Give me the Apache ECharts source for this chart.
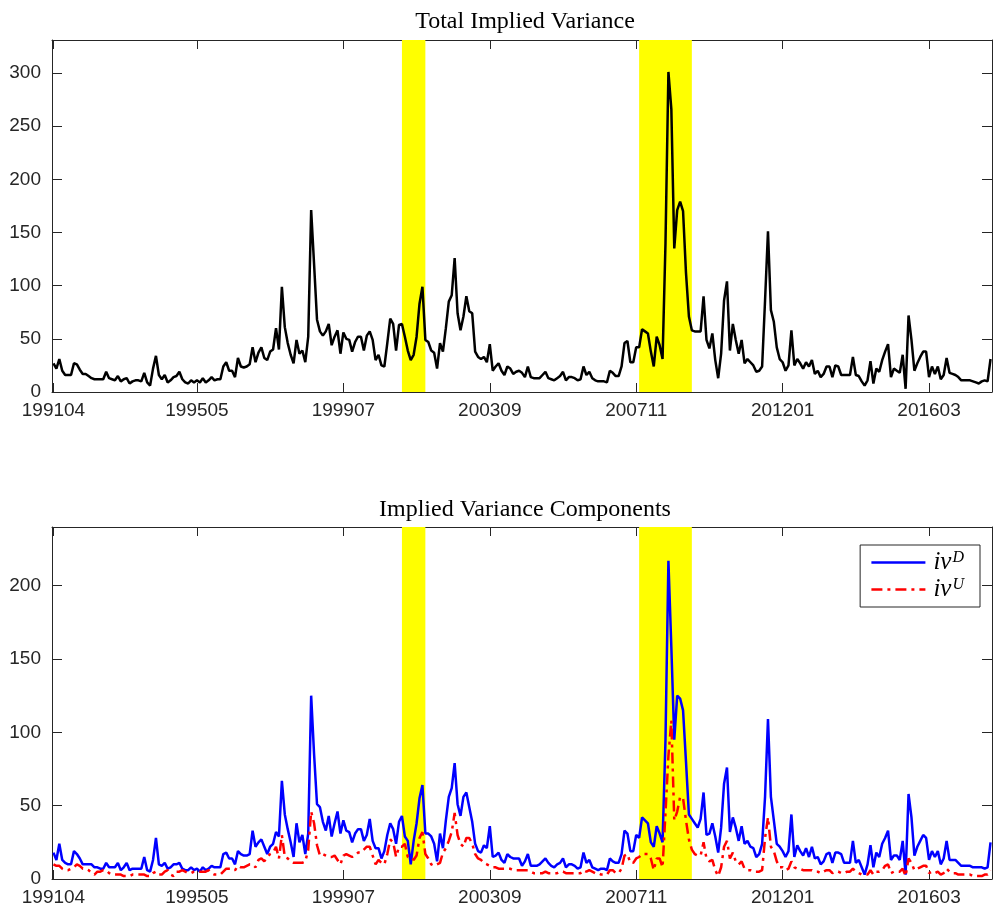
<!DOCTYPE html>
<html>
<head>
<meta charset="utf-8">
<script src="https://cdn.jsdelivr.net/npm/echarts@6/dist/echarts.min.js"></script>
<style>
  html, body { margin: 0; padding: 0; background: #fff; }
  #chart { width: 993px; height: 915px; }
</style>
</head>
<body>
<div id="chart"></div>
<script>
// monthly dates 199104 .. 201712
var months = [];
for (var k = 0; k < 321; k++) {
    var yr = 1991 + Math.floor((3 + k) / 12);
    var mo = (3 + k) % 12 + 1;
    months.push(yr + (mo < 10 ? '0' : '') + mo);
}

var totalIV = [
    27, 22, 31, 20, 16, 16, 16, 27, 26, 21,
    17, 17, 15, 13, 12, 12, 12, 12, 19, 13,
    12, 11, 15, 10, 12, 13, 8, 10, 11, 11,
    10, 18, 9, 6, 22, 34, 16, 12, 16, 9,
    11, 14, 15, 19, 12, 9, 8, 11, 9, 11,
    9, 13, 9, 11, 14, 11, 12, 12, 24, 28,
    20, 20, 14, 32, 24, 23, 24, 26, 42, 28,
    37, 42, 32, 30, 38, 40, 60, 40, 99, 61,
    46, 35, 27, 49, 36, 39, 28, 52, 171, 120,
    68, 57, 53, 57, 64, 44, 52, 58, 36, 56,
    50, 49, 38, 47, 52, 52, 39, 53, 57, 49,
    30, 35, 25, 24, 46, 69, 64, 39, 63, 64,
    52, 39, 30, 35, 52, 83, 99, 49, 47, 39,
    37, 22, 46, 38, 60, 85, 91, 126, 74, 58,
    71, 90, 76, 74, 38, 33, 31, 33, 28, 45,
    20, 24, 27, 20, 16, 24, 22, 17, 19, 20,
    18, 14, 24, 14, 13, 13, 13, 16, 19, 13,
    12, 11, 13, 15, 19, 11, 14, 14, 13, 11,
    12, 24, 16, 19, 13, 11, 10, 10, 10, 9,
    20, 18, 15, 15, 24, 46, 48, 28, 28, 42,
    42, 59, 57, 55, 38, 24, 52, 44, 31, 140,
    301, 266, 135, 171, 179, 170, 112, 71, 58, 57,
    57, 57, 90, 49, 41, 55, 30, 13, 36, 86,
    104, 39, 64, 49, 36, 49, 27, 31, 28, 25,
    19, 20, 24, 86, 151, 77, 66, 42, 31, 28,
    20, 25, 58, 25, 31, 27, 22, 28, 24, 30,
    17, 20, 14, 17, 24, 24, 14, 25, 24, 16,
    16, 16, 16, 33, 16, 15, 10, 6, 11, 29,
    8, 22, 19, 30, 38, 45, 14, 22, 20, 18,
    35, 3, 72, 49, 20, 27, 33, 38, 38, 14,
    24, 17, 24, 12, 16, 32, 18, 17, 16, 14,
    11, 11, 11, 11, 10, 9, 8, 10, 11, 10, 31
];

var ivD = [
    18, 13, 24, 13, 11, 10, 10, 19, 17, 14,
    10, 10, 10, 10, 8, 8, 7, 7, 11, 8,
    8, 8, 11, 6, 8, 11, 6, 7, 7, 7,
    7, 15, 6, 5, 13, 28, 10, 9, 11, 7,
    8, 10, 10, 11, 7, 6, 6, 8, 6, 7,
    5, 8, 6, 7, 9, 8, 8, 8, 17, 18,
    14, 14, 10, 19, 17, 16, 16, 17, 33, 22,
    25, 27, 22, 17, 22, 24, 32, 29, 67, 44,
    34, 25, 15, 38, 25, 30, 17, 31, 125, 85,
    51, 49, 39, 33, 43, 29, 38, 46, 31, 40,
    33, 32, 25, 31, 34, 34, 26, 30, 41, 26,
    21, 21, 14, 19, 30, 38, 34, 24, 39, 43,
    29, 26, 10, 26, 38, 55, 64, 31, 31, 29,
    24, 12, 31, 21, 40, 56, 62, 79, 51, 43,
    56, 59, 49, 39, 24, 19, 18, 23, 21, 36,
    15, 16, 18, 13, 11, 17, 15, 14, 14, 14,
    9, 12, 17, 9, 9, 9, 10, 12, 14, 11,
    9, 8, 10, 11, 14, 8, 10, 10, 9, 7,
    8, 18, 11, 13, 8, 7, 6, 7, 7, 6,
    14, 12, 11, 11, 17, 33, 31, 19, 19, 30,
    28, 42, 40, 38, 25, 22, 36, 31, 25, 95,
    217, 158, 95, 125, 123, 115, 80, 44, 41, 38,
    35, 41, 59, 30, 31, 38, 29, 18, 35, 65,
    76, 32, 42, 35, 26, 36, 24, 26, 22, 21,
    15, 17, 24, 56, 109, 56, 40, 24, 22, 19,
    15, 19, 44, 15, 23, 19, 16, 21, 15, 22,
    14, 15, 10, 12, 17, 18, 11, 18, 18, 17,
    11, 11, 11, 26, 11, 13, 8, 3, 10, 23,
    8, 18, 15, 24, 28, 33, 13, 16, 16, 13,
    26, 3, 58, 42, 16, 22, 26, 30, 28, 13,
    19, 15, 19, 10, 14, 26, 13, 13, 13, 11,
    9, 9, 9, 9, 8, 8, 8, 8, 7, 8, 25
];

var ivU = [
    10, 9, 9, 7, 6, 6, 7, 8, 10, 9,
    7, 7, 6, 4, 3, 5, 5, 6, 6, 4,
    3, 3, 3, 3, 2, 2, 2, 3, 3, 3,
    3, 3, 2, 2, 4, 5, 3, 3, 5, 6,
    3, 2, 5, 5, 6, 5, 4, 4, 5, 5,
    5, 5, 5, 6, 4, 3, 3, 3, 5, 7,
    7, 7, 6, 9, 8, 8, 9, 10, 10, 8,
    13, 14, 12, 15, 17, 18, 22, 14, 30, 15,
    14, 12, 11, 11, 11, 11, 12, 20, 46, 38,
    23, 16, 17, 16, 15, 15, 16, 13, 10, 16,
    17, 16, 15, 16, 18, 18, 20, 22, 22, 16,
    10, 13, 11, 10, 17, 27, 25, 15, 22, 22,
    24, 15, 15, 13, 16, 28, 32, 17, 14, 10,
    9, 10, 11, 18, 21, 26, 32, 45, 30, 24,
    22, 28, 28, 24, 17, 14, 13, 11, 10, 9,
    8, 8, 7, 7, 7, 7, 7, 6, 6, 6,
    6, 6, 6, 5, 4, 4, 4, 4, 5, 4,
    4, 4, 4, 5, 5, 4, 4, 4, 4, 4,
    4, 6, 5, 6, 5, 4, 4, 3, 3, 3,
    6, 6, 4, 4, 7, 16, 17, 11, 11, 14,
    15, 17, 17, 17, 14, 6, 14, 14, 8, 45,
    84, 108, 40, 46, 56, 55, 40, 27, 20, 17,
    16, 16, 25, 14, 12, 13, 6, 2, 8, 22,
    26, 14, 18, 12, 10, 12, 7, 6, 6, 5,
    5, 5, 6, 28, 42, 22, 19, 12, 8, 8,
    6, 7, 12, 8, 7, 7, 6, 6, 6, 6,
    5, 5, 4, 5, 6, 6, 4, 5, 5, 4,
    4, 5, 5, 7, 5, 4, 3, 3, 3, 6,
    3, 5, 5, 6, 9, 10, 4, 5, 5, 5,
    7, 2, 14, 11, 6, 7, 8, 9, 9, 4,
    5, 4, 5, 3, 4, 7, 5, 4, 4, 3,
    3, 3, 3, 3, 2, 2, 2, 2, 3, 3, 6
];

// NBER recessions (shaded)
var recessions = [['200103', '200111'], ['200712', '200906']];

var axisColor = '#262626';
var labelFont = 'Liberation Sans, Arial, sans-serif';
var titleFont = 'Liberation Serif, Times New Roman, serif';

function showTick(i) {
    return i === 0 || (i + 1) % 50 === 0;
}

function shading() {
    return {
        silent: true,
        itemStyle: { color: '#ffff00', opacity: 1 },
        data: recessions.map(function (r) {
            return [{ xAxis: r[0] }, { xAxis: r[1] }];
        })
    };
}

function xAx(grid, pos) {
    return {
        type: 'category',
        gridIndex: grid,
        position: pos,
        data: months,
        boundaryGap: true,
        axisLine: { show: true, onZero: false, lineStyle: { color: axisColor, width: 1 } },
        axisTick: { show: true, inside: true, length: 9, alignWithLabel: true, interval: showTick,
                    lineStyle: { color: axisColor } },
        axisLabel: { show: pos === 'bottom', interval: showTick, margin: 9,
                     color: axisColor, fontSize: 19, fontFamily: labelFont },
        splitLine: { show: false }
    };
}

function yAx(grid, pos, max) {
    return {
        type: 'value',
        gridIndex: grid,
        position: pos,
        min: 0,
        max: max,
        interval: 50,
        axisLine: { show: true, lineStyle: { color: axisColor, width: 1 } },
        axisTick: { show: true, inside: true, length: 10, lineStyle: { color: axisColor } },
        axisLabel: { show: pos === 'left', showMaxLabel: false, margin: 11,
                     color: axisColor, fontSize: 19, fontFamily: labelFont },
        splitLine: { show: false }
    };
}

var myChart = echarts.init(document.getElementById('chart'));

var option = {
    animation: false,
    backgroundColor: '#ffffff',
    title: [
        { text: 'Total Implied Variance', left: 520, top: 5, textAlign: 'center',
          textStyle: { fontFamily: titleFont, fontWeight: 'normal', fontSize: 24, color: '#000' } },
        { text: 'Implied Variance Components', left: 520, top: 493, textAlign: 'center',
          textStyle: { fontFamily: titleFont, fontWeight: 'normal', fontSize: 24, color: '#000' } }
    ],
    grid: [
        { left: 52, right: 1, top: 40, height: 352 },
        { left: 52, right: 1, top: 527, height: 352 }
    ],
    xAxis: [xAx(0, 'bottom'), xAx(0, 'top'), xAx(1, 'bottom'), xAx(1, 'top')],
    yAxis: [yAx(0, 'left', 331), yAx(0, 'right', 331), yAx(1, 'left', 240), yAx(1, 'right', 240)],
    legend: {
        data: ['ivD', 'ivU'],
        orient: 'vertical',
        right: 13,
        top: 545,
        padding: [5, 16, 5, 10],
        itemGap: 2,
        itemWidth: 54,
        itemHeight: 14,
        itemStyle: { opacity: 0 },
        lineStyle: { width: 2.5 },
        borderColor: axisColor,
        borderWidth: 1,
        borderRadius: 0,
        backgroundColor: '#fff',
        formatter: function (name) {
            return name === 'ivD' ? '{a|iv}{b|D}' : '{a|iv}{b|U}';
        },
        textStyle: {
            rich: {
                a: { fontFamily: titleFont, fontStyle: 'italic', fontSize: 25, color: '#000',
                     padding: [0, 0, 0, 3] },
                b: { fontFamily: titleFont, fontStyle: 'italic', fontSize: 16, color: '#000',
                     verticalAlign: 'top', padding: [0, 0, 0, 1] }
            }
        }
    },
    series: [
        {
            name: 'Total',
            type: 'line',
            xAxisIndex: 0,
            yAxisIndex: 0,
            data: totalIV,
            symbol: 'none',
            lineStyle: { color: '#000000', width: 2.5 },
            itemStyle: { color: '#000000' },
            markArea: shading(),
            z: 3
        },
        {
            name: 'ivD',
            type: 'line',
            xAxisIndex: 2,
            yAxisIndex: 2,
            data: ivD,
            symbol: 'none',
            lineStyle: { color: '#0000ff', width: 2.5 },
            itemStyle: { color: '#0000ff' },
            markArea: shading(),
            z: 3
        },
        {
            name: 'ivU',
            type: 'line',
            xAxisIndex: 2,
            yAxisIndex: 2,
            data: ivU,
            symbol: 'none',
            lineStyle: { color: '#ff0000', width: 2.5, type: [11, 5, 3, 5] },
            itemStyle: { color: '#ff0000' },
            z: 4
        }
    ]
};

myChart.setOption(option);
</script>
</body>
</html>
